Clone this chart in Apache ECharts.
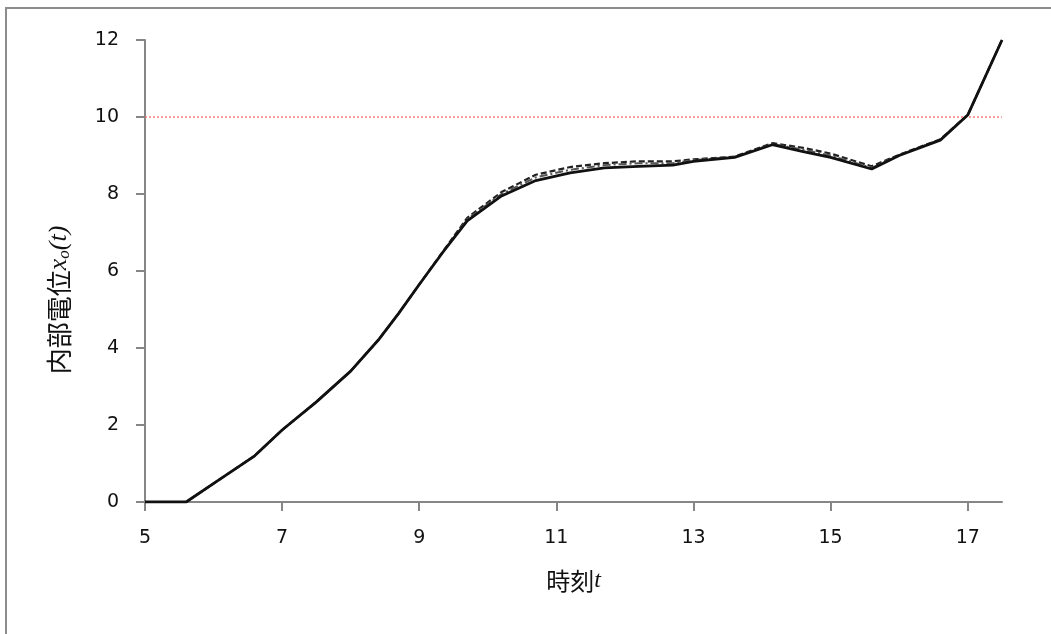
<!DOCTYPE html>
<html>
<head>
<meta charset="utf-8">
<script src="https://cdn.jsdelivr.net/npm/echarts@6/dist/echarts.min.js"></script>
<style>
  html, body { margin: 0; padding: 0; background: #fff; }
  #chart { width: 1051px; height: 634px; }
</style>
</head>
<body>
<div id="chart"></div>
<script>
// Time of day (hours)
const timeA = [5.0, 5.6, 6.1, 6.6, 7.0, 7.5, 8.0, 8.4, 8.7, 9.0, 9.35, 9.7, 10.2, 10.7, 11.2, 11.7, 12.2, 12.7, 13.0, 13.6, 14.15, 14.6, 15.0, 15.6, 16.0, 16.6, 17.0, 17.5];
// Internal potential, three runs
const potential1 = [0, 0, 0.6, 1.2, 1.87, 2.6, 3.4, 4.2, 4.9, 5.65, 6.5, 7.3, 7.95, 8.35, 8.55, 8.68, 8.72, 8.75, 8.85, 8.95, 9.28, 9.1, 8.95, 8.65, 9.0, 9.4, 10.05, 12.0];
const potential2 = [0, 0, 0.6, 1.2, 1.87, 2.6, 3.4, 4.2, 4.9, 5.65, 6.52, 7.38, 8.05, 8.5, 8.7, 8.8, 8.85, 8.85, 8.9, 8.97, 9.32, 9.2, 9.05, 8.72, 9.02, 9.42, 10.05, 12.0];
const potential3 = [0, 0, 0.6, 1.2, 1.87, 2.6, 3.4, 4.2, 4.9, 5.65, 6.51, 7.34, 8.0, 8.43, 8.63, 8.75, 8.8, 8.8, 8.88, 8.96, 9.3, 9.15, 9.0, 8.68, 9.01, 9.41, 10.05, 12.0];
// Threshold level
const thresholdT = [5, 17.5];
const thresholdV = [10, 10];

const xTicks = [5, 7, 9, 11, 13, 15, 17];

const pairs = (xs, ys) => xs.map((x, i) => [x, ys[i]]);

const chart = echarts.init(document.getElementById('chart'));
const labelFont = { fontFamily: 'DejaVu Sans', fontSize: 19, color: '#111' };

chart.setOption({
  animation: false,
  backgroundColor: '#fff',
  graphic: [{
    type: 'rect',
    shape: { x: 6, y: 8, width: 1070, height: 660 },
    style: { fill: 'none', stroke: '#8c8c8c', lineWidth: 2 },
    silent: true
  }],
  grid: { left: 145, right: 49, top: 40, bottom: 132 },
  xAxis: {
    type: 'value',
    min: 5, max: 17.5,
    axisLine: { lineStyle: { color: '#868686', width: 2 } },
    axisTick: { show: true, customValues: xTicks, length: 9, lineStyle: { color: '#868686', width: 2 } },
    axisLabel: Object.assign({ customValues: xTicks, margin: 27 }, labelFont),
    splitLine: { show: false },
    name: '時刻{it|t}',
    nameLocation: 'middle',
    nameGap: 67,
    nameTextStyle: {
      fontFamily: 'Noto Sans CJK JP', fontSize: 24, color: '#111',
      rich: { it: { fontFamily: 'Liberation Serif', fontStyle: 'italic', fontSize: 24, color: '#111' } }
    }
  },
  yAxis: {
    type: 'value',
    min: 0, max: 12, interval: 2,
    axisLine: { show: true, lineStyle: { color: '#868686', width: 2 } },
    axisTick: { show: true, length: 9, lineStyle: { color: '#868686', width: 2 } },
    axisLabel: Object.assign({ margin: 26 }, labelFont),
    splitLine: { show: false },
    name: '内部電位{it|x}{sub|o}{it|(t)}',
    nameLocation: 'middle',
    nameRotate: 90,
    nameGap: 72,
    nameTextStyle: {
      fontFamily: 'Noto Sans CJK JP', fontSize: 26, color: '#111',
      padding: [0, 58, 0, 0],
      rich: {
        it: { fontFamily: 'Liberation Serif', fontStyle: 'italic', fontSize: 26, color: '#111' },
        sub: { fontFamily: 'Liberation Serif', fontStyle: 'italic', fontSize: 17, color: '#111', verticalAlign: 'bottom', padding: [10, 0, 0, 0] }
      }
    }
  },
  series: [
    {
      type: 'line', data: pairs(thresholdT, thresholdV), symbol: 'none',
      lineStyle: { color: '#ff5a5a', width: 1.2, type: [2, 2] }, z: 1
    },
    {
      type: 'line', data: pairs(timeA, potential2), symbol: 'none',
      lineStyle: { color: '#222', width: 2.2, type: [6, 3] }, z: 2
    },
    {
      type: 'line', data: pairs(timeA, potential3), symbol: 'none',
      lineStyle: { color: '#555', width: 2, type: [8, 3, 2, 3] }, z: 3
    },
    {
      type: 'line', data: pairs(timeA, potential1), symbol: 'none',
      lineStyle: { color: '#111', width: 2.8 }, z: 4
    }
  ]
});
</script>
</body>
</html>
